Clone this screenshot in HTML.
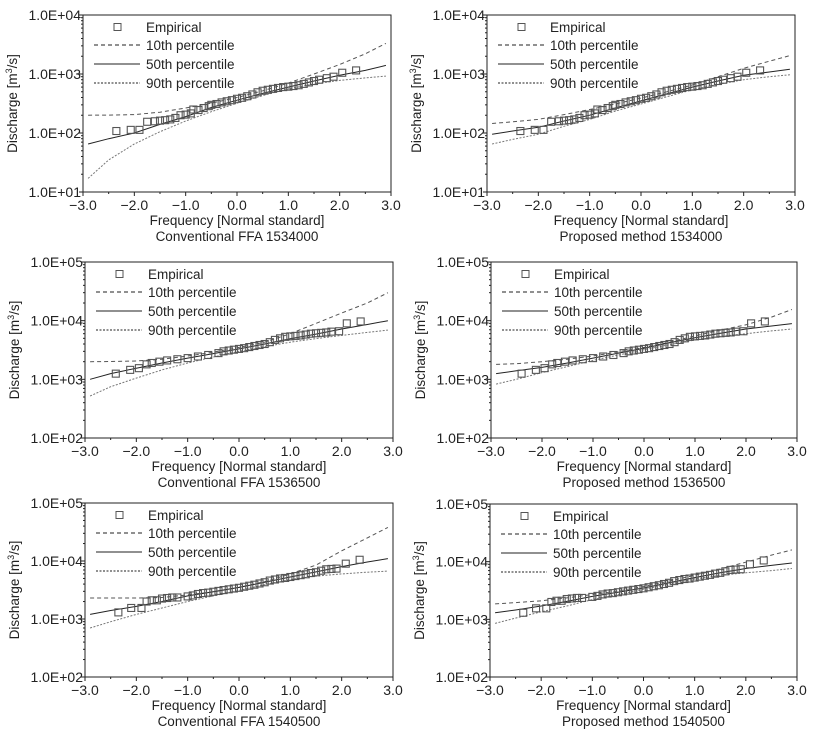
<!DOCTYPE html>
<html><head><meta charset="utf-8"><style>
html,body{margin:0;padding:0;background:#fff;}
svg{display:block;font-family:"Liberation Sans",Arial,sans-serif;}
</style></head><body>
<svg id="fig" width="819" height="736" viewBox="0 0 819 736" xmlns="http://www.w3.org/2000/svg"></svg>
<script>
// ---- data ----
const curveX = [-2.9,-2.5,-2,-1.5,-1,-0.5,0,0.5,1,1.5,2,2.5,2.9];

const empX1 = [-2.35,-2.07,-1.9,-1.75,-1.6,-1.5,-1.4,-1.3,-1.2,-1.1,-1.0,-0.9,-0.85,-0.75,-0.65,-0.55,-0.5,-0.4,-0.3,-0.2,-0.1,0,0.1,0.2,0.3,0.4,0.5,0.6,0.7,0.8,0.9,1.0,1.1,1.2,1.3,1.4,1.5,1.6,1.75,1.88,2.05,2.32];
const empQ1 = [108,113,113,155,158,162,165,170,180,200,205,215,250,245,265,285,300,310,330,345,360,380,395,420,450,490,520,540,560,580,600,610,625,645,680,720,760,800,850,900,1050,1150];

const empX2 = [-2.4,-2.12,-1.95,-1.8,-1.7,-1.55,-1.4,-1.2,-1.0,-0.8,-0.6,-0.4,-0.3,-0.2,-0.1,0,0.1,0.2,0.3,0.4,0.5,0.6,0.7,0.8,0.9,1.0,1.1,1.2,1.3,1.4,1.5,1.6,1.7,1.8,1.95,2.1,2.37];
const empQ2 = [1250,1450,1550,1800,1900,2000,2100,2200,2300,2450,2600,2800,3000,3100,3200,3300,3400,3550,3700,3850,4000,4300,4700,5000,5300,5400,5500,5600,5800,6000,6100,6200,6300,6500,6600,9000,9700];

const empX3 = [-2.35,-2.1,-1.9,-1.8,-1.7,-1.6,-1.5,-1.4,-1.3,-1.2,-1.0,-0.9,-0.8,-0.7,-0.6,-0.5,-0.4,-0.3,-0.2,-0.1,0,0.1,0.2,0.3,0.4,0.5,0.6,0.7,0.8,0.9,1.0,1.1,1.2,1.3,1.4,1.5,1.6,1.7,1.8,1.9,2.08,2.35];
const empQ3 = [1300,1550,1550,2000,2100,2100,2250,2300,2350,2350,2450,2550,2700,2800,2850,2950,3050,3150,3250,3350,3450,3600,3750,3900,4100,4300,4600,4800,5000,5100,5300,5500,5700,5900,6200,6400,6800,7200,7300,7400,9000,10500];

const p10A = [200,201,205,225,265,320,400,520,700,1000,1450,2200,3300];
const p50A = [65,80,100,140,190,270,360,470,600,760,950,1150,1400];
const p90A = [17,35,65,105,160,230,320,430,560,680,780,860,920];

const p10B = [145,155,170,205,250,310,390,500,650,900,1250,1650,2050];
const p50B = [95,108,125,160,200,265,350,460,600,760,950,1080,1200];
const p90B = [65,78,95,130,170,235,310,410,540,670,800,900,970];

const p10C = [2000,2010,2050,2200,2500,2900,3500,4300,6000,9000,13500,20000,30000];
const p50C = [1000,1250,1550,1900,2300,2750,3300,4000,4900,5900,7200,8600,10000];
const p90C = [520,750,1050,1450,1900,2400,3000,3600,4300,4950,5600,6300,6900];

const p10D = [1800,1850,2000,2200,2500,2950,3500,4300,5500,6900,8500,11500,15500];
const p50D = [1250,1400,1600,1900,2300,2800,3400,4200,5100,6100,7200,8100,8900];
const p90D = [830,1000,1300,1650,2100,2600,3200,3900,4700,5400,6000,6700,7200];

const p10E = [2300,2300,2300,2350,2600,2950,3500,4400,6000,8500,15000,25000,38000];
const p50E = [1200,1400,1650,2000,2500,2950,3500,4300,5300,6500,8000,9600,11000];
const p90E = [700,900,1200,1550,2000,2500,3100,3900,4800,5500,6000,6400,6700];

const p10F = [1850,1950,2100,2350,2700,3100,3700,4600,5800,7500,9800,13000,16000];
const p50F = [1300,1450,1700,2050,2500,2950,3500,4300,5300,6400,7600,8600,9500];
const p90F = [850,1050,1350,1700,2200,2700,3300,4100,5000,5800,6400,7000,7600];

const xTickLabels = ["\u22123.0","\u22122.0","\u22121.0","0.0","1.0","2.0","3.0"];
const xTickVals = [-3,-2,-1,0,1,2,3];
const legendLabels = ["Empirical","10th percentile","50th percentile","90th percentile"];
const captions = ["Conventional FFA 1534000","Proposed method 1534000","Conventional FFA 1536500","Proposed method 1536500","Conventional FFA 1540500","Proposed method 1540500"];
const yDecadesLow = [1,1,2,2,2,2];

// ---- drawing ----
const NS="http://www.w3.org/2000/svg";
const svg=document.getElementById('fig');
function mk(tag,attrs,parent){const e=document.createElementNS(NS,tag);for(const k in attrs)e.setAttribute(k,attrs[k]);(parent||svg).appendChild(e);return e;}

const boxes=[[83,15,391,192],[487,15,795,192],[85,262,393,438],[491,262,797,438],[85,503,393,677],[490,504,797,677]];
const panels=[
 {ex:empX1,eq:empQ1,p10:p10A,p50:p50A,p90:p90A},
 {ex:empX1,eq:empQ1,p10:p10B,p50:p50B,p90:p90B},
 {ex:empX2,eq:empQ2,p10:p10C,p50:p50C,p90:p90C},
 {ex:empX2,eq:empQ2,p10:p10D,p50:p50D,p90:p90D},
 {ex:empX3,eq:empQ3,p10:p10E,p50:p50E,p90:p90E},
 {ex:empX3,eq:empQ3,p10:p10F,p50:p50F,p90:p90F}
];

panels.forEach((p,i)=>{
  const [L,T,R,B]=boxes[i];
  const lo=yDecadesLow[i], hi=lo+3;
  const xs=v=>L+(v+3)/6*(R-L);
  const ys=q=>B-(Math.log10(q)-lo)/(hi-lo)*(B-T);
  const g=mk('g',{});
  
  
  const frame=mk('rect',{x:L,y:T,width:R-L,height:B-T,fill:'none',stroke:'#222','stroke-width':1},g);
  
  
  for(let d=lo;d<=hi;d++){
    const y=ys(Math.pow(10,d));
    mk('line',{x1:L-4,x2:L,y1:y,y2:y,stroke:'#222'},g);
    const t=mk('text',{x:L-2,y:y+5,'text-anchor':'end','font-size':14,fill:'#222'},g);
    t.textContent='1.0E+'+(d<10?'0'+d:d);
    
    
    if(d<hi){for(let m=2;m<10;m++){const ym=ys(m*Math.pow(10,d));mk('line',{x1:L-2,x2:L,y1:ym,y2:ym,stroke:'#222'},g);}}
  }
  xTickVals.forEach((v,k)=>{
    const x=xs(v);
    mk('line',{x1:x,x2:x,y1:B,y2:B+4,stroke:'#222'},g);
    if(v<3) mk('line',{x1:xs(v+0.5),x2:xs(v+0.5),y1:B,y2:B+2,stroke:'#222'},g);
    const t=mk('text',{x:x,y:B+18,'text-anchor':'middle','font-size':14,fill:'#222'},g);
    t.textContent=xTickLabels[k];
    
    
  });
  const xt=mk('text',{x:(L+R)/2,y:B+33,'text-anchor':'middle','font-size':13.5,fill:'#222'},g);
  xt.textContent='Frequency [Normal standard]';
  
  
  const cp=mk('text',{x:(L+R)/2,y:B+49,'text-anchor':'middle','font-size':13.5,fill:'#222'},g);
  cp.textContent=captions[i];
  
  
  const yt=mk('text',{x:0,y:0,'text-anchor':'middle','font-size':13.5,fill:'#222',transform:`translate(${L-66},${(T+B)/2}) rotate(-90)`},g);
  yt.innerHTML='Discharge [m<tspan font-size="9" dy="-5">3</tspan><tspan dy="5">/s]</tspan>';
  
  
  const styles=[['p10','#555','4,3'],['p50','#222',''],['p90','#777','2,1.5']];
  styles.forEach(([k,c,da])=>{
    const pts=curveX.map((x,j)=>xs(x).toFixed(1)+','+ys(p[k][j]).toFixed(1)).join(' ');
    const pl=mk('polyline',{points:pts,fill:'none',stroke:c,'stroke-width':1,'stroke-dasharray':da},g);
    
    
  });
  p.ex.forEach((x,j)=>{
    const r=mk('rect',{x:xs(x)-3.5,y:ys(p.eq[j])-3.5,width:7,height:7,fill:'none',stroke:'#555','stroke-width':1.1},g);
    
    
  });
  const lg=mk('g',{},g);
  
  
  const ly=[12,30,49,68];
  mk('rect',{x:L+31,y:T+ly[0]-3.5,width:7,height:7,fill:'none',stroke:'#555'},lg);
  const ld=[null,'4,3','','2,1.5'];
  for(let k=1;k<4;k++) mk('line',{x1:L+11,x2:L+57,y1:T+ly[k],y2:T+ly[k],stroke:'#222','stroke-dasharray':ld[k]},lg);
  legendLabels.forEach((s,k)=>{
    const t=mk('text',{x:L+63,y:T+ly[k]+5,'font-size':13.5,fill:'#222'},lg);
    t.textContent=s;
    
    
  });
});
</script>
</body></html>
